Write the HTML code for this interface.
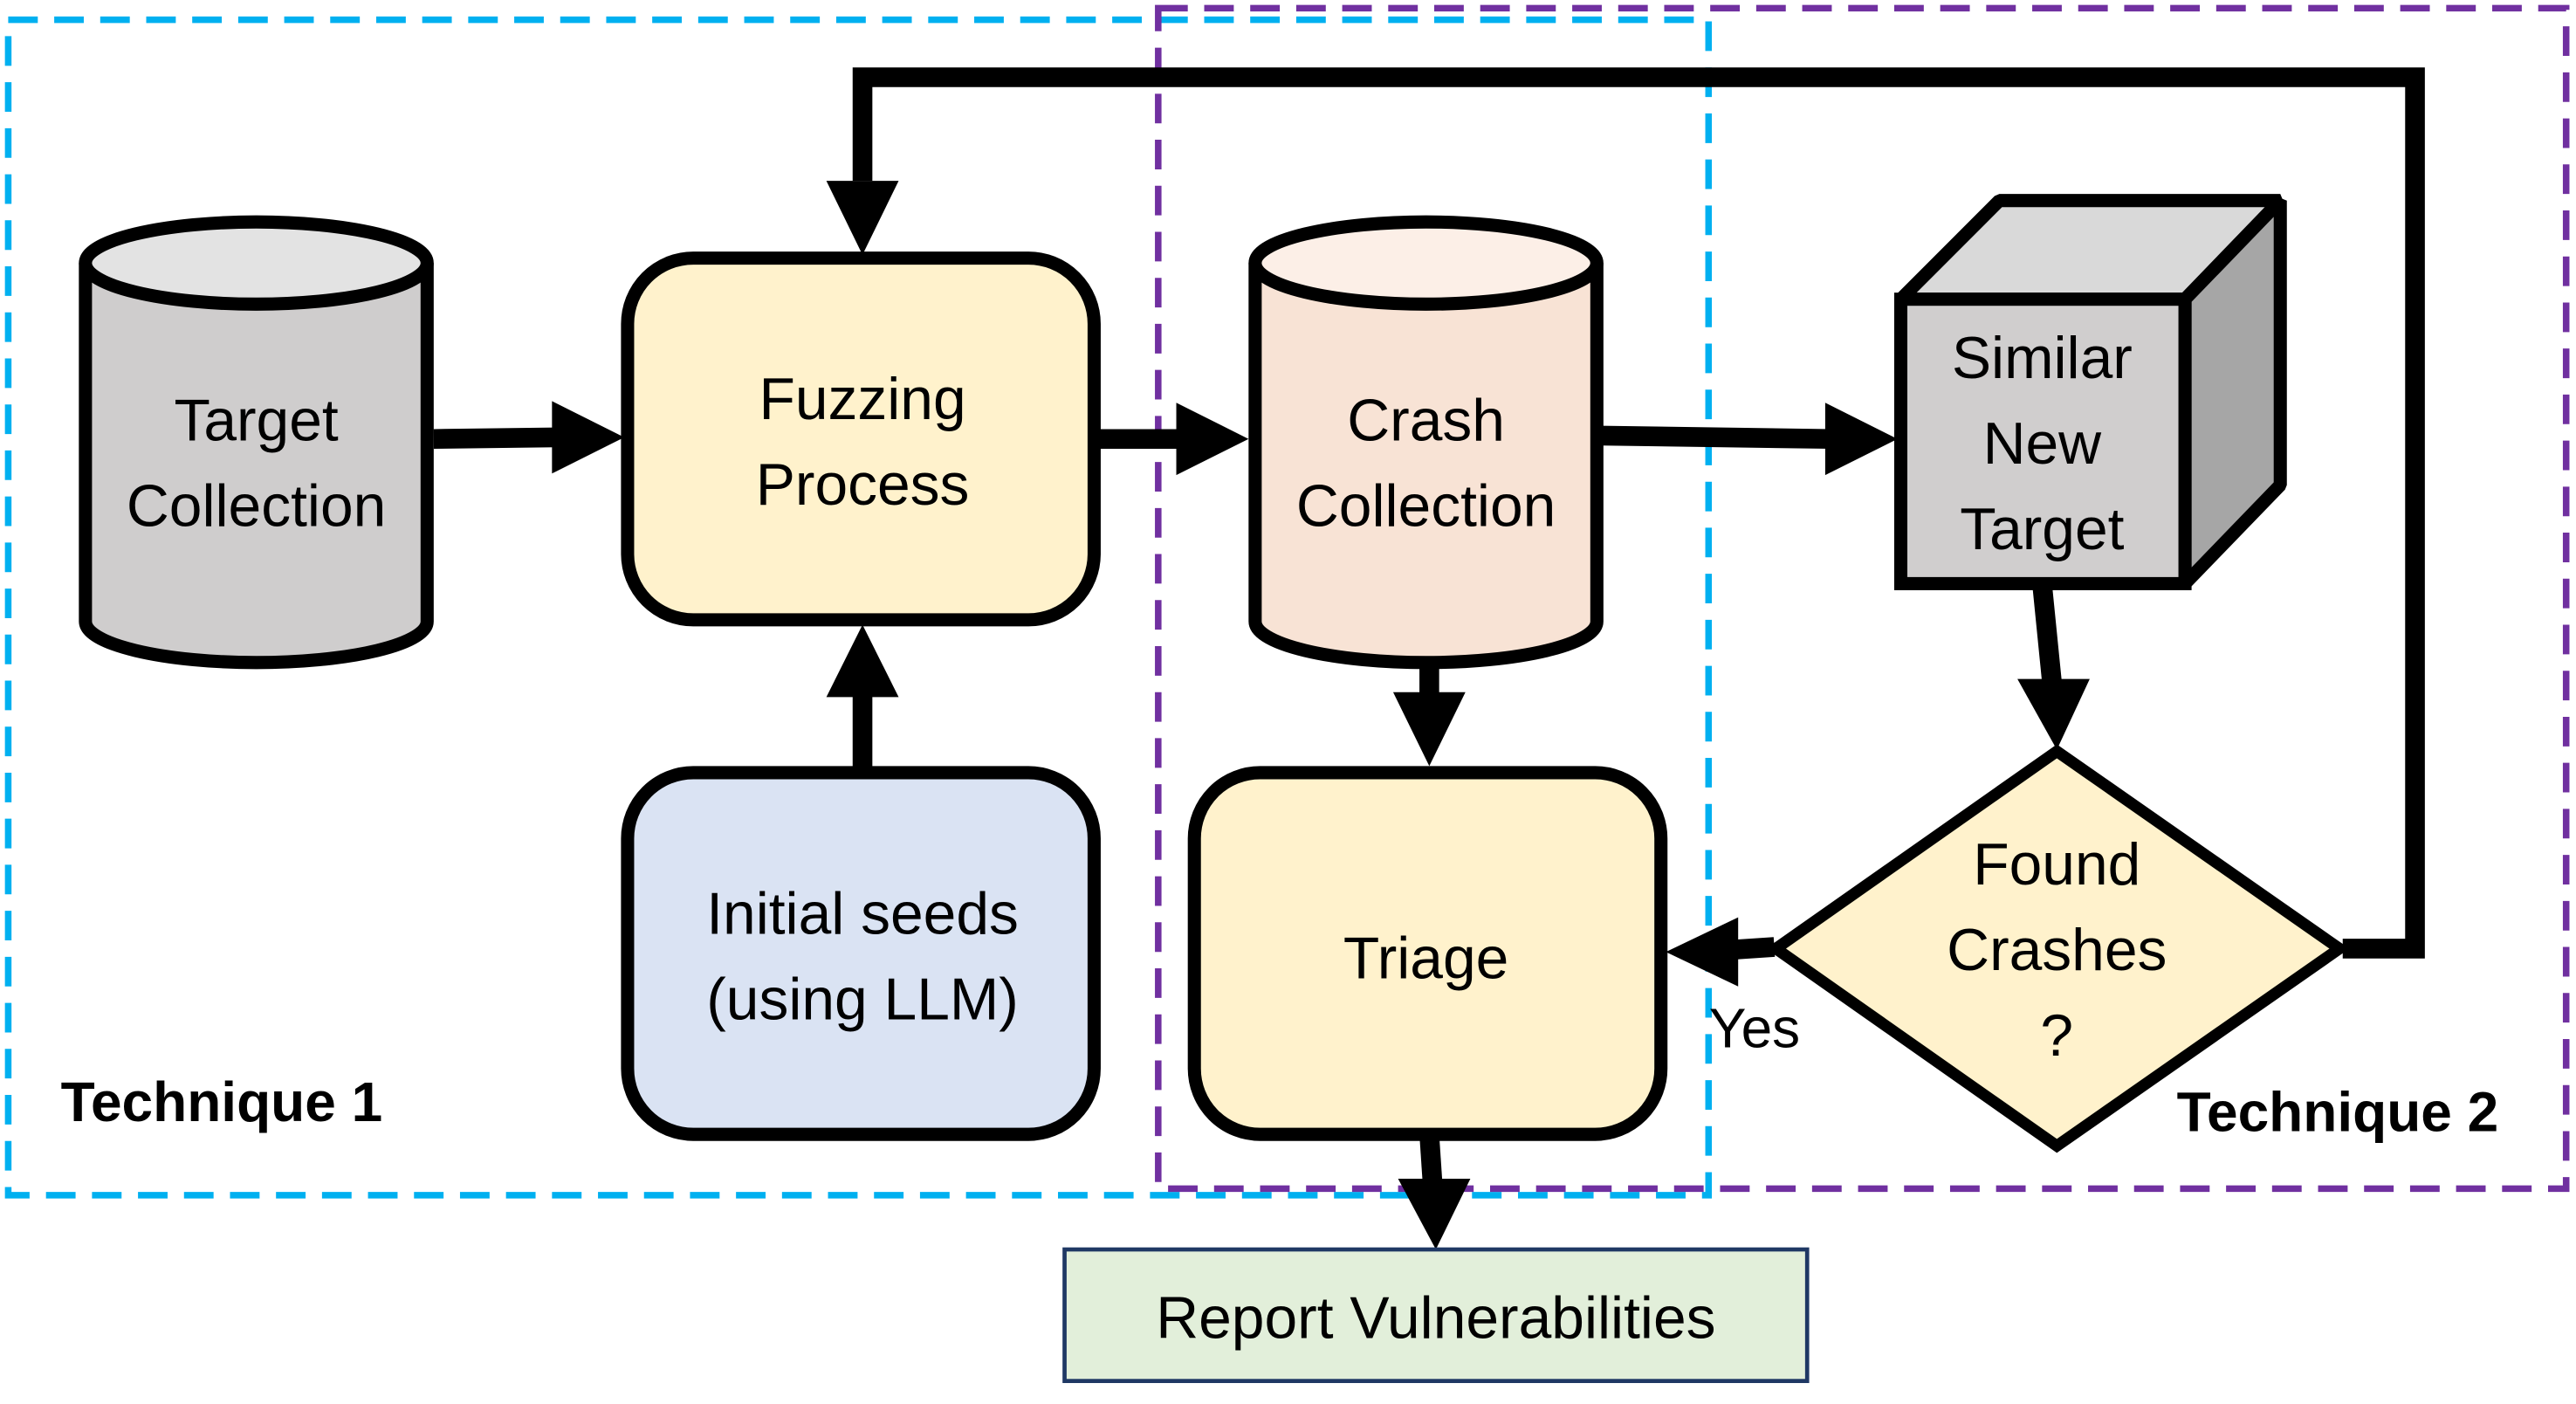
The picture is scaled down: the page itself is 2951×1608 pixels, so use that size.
<!DOCTYPE html>
<html><head><meta charset="utf-8"><style>
html,body{margin:0;padding:0;background:#fff;}
svg{display:block;}
text{font-family:"Liberation Sans",sans-serif;font-size:36px;fill:#000;text-anchor:middle;}
.b{font-weight:bold;font-size:34px;text-anchor:start;}
</style></head><body>
<svg width="2951" height="1608" viewBox="0 0 1568 854" preserveAspectRatio="none" xmlns="http://www.w3.org/2000/svg">
<rect x="5" y="12" width="1035" height="715" fill="none" stroke="#00b0f0" stroke-width="4" stroke-dasharray="18,10"/>
<rect x="705" y="5" width="857" height="718" fill="none" stroke="#7030a0" stroke-width="4" stroke-dasharray="18,10"/>

<polyline points="1426,577 1470,577 1470,47 525,47 525,110" fill="none" stroke="#000" stroke-width="12"/>
<polygon points="503,110 547,110 525,155" fill="#000"/>

<path d="M52,160 L52,378 A104,25 0 0 0 260,378 L260,160" fill="#cfcdcd" stroke="#000" stroke-width="8"/>
<ellipse cx="156" cy="160" rx="104" ry="25" fill="#e3e3e3" stroke="#000" stroke-width="8"/>
<text x="156" y="268">Target</text>
<text x="156" y="320">Collection</text>

<line x1="264" y1="267" x2="340" y2="266" stroke="#000" stroke-width="12"/>
<polygon points="336,244 380,266 336,288" fill="#000"/>
<line x1="667" y1="267" x2="720" y2="267" stroke="#000" stroke-width="12"/>
<polygon points="716,245 760,267 716,289" fill="#000"/>
<line x1="975" y1="265" x2="1115" y2="267" stroke="#000" stroke-width="12"/>
<polygon points="1111,245 1155,267 1111,289" fill="#000"/>
<line x1="525" y1="468" x2="525" y2="420" stroke="#000" stroke-width="12"/>
<polygon points="503,424 547,424 525,380" fill="#000"/>
<line x1="870" y1="380" x2="870" y2="425" stroke="#000" stroke-width="12"/>
<polygon points="848,421 892,421 870,466" fill="#000"/>
<line x1="1243" y1="355" x2="1249" y2="415" stroke="#000" stroke-width="12"/>
<polygon points="1228,413 1272,413 1252,456" fill="#000"/>
<line x1="1080" y1="576" x2="1050" y2="578" stroke="#000" stroke-width="12"/>
<polygon points="1058,558 1058,600 1014,579" fill="#000"/>
<line x1="870" y1="690" x2="872" y2="720" stroke="#000" stroke-width="12"/>
<polygon points="851,717 895,717 874,760" fill="#000"/>

<rect x="382" y="157" width="284" height="220" rx="40" fill="#fff2cc" stroke="#000" stroke-width="8"/>
<text x="525" y="255">Fuzzing</text>
<text x="525" y="307">Process</text>

<rect x="382" y="470" width="284" height="220" rx="40" fill="#dae3f3" stroke="#000" stroke-width="8"/>
<text x="525" y="568">Initial seeds</text>
<text x="525" y="620">(using LLM)</text>

<path d="M764,160 L764,378 A104,25 0 0 0 972,378 L972,160" fill="#f8e3d5" stroke="#000" stroke-width="8"/>
<ellipse cx="868" cy="160" rx="104" ry="25" fill="#fcefe7" stroke="#000" stroke-width="8"/>
<text x="868" y="268">Crash</text>
<text x="868" y="320">Collection</text>

<rect x="727" y="470" width="284" height="220" rx="40" fill="#fff2cc" stroke="#000" stroke-width="8"/>
<text x="868" y="595">Triage</text>

<polygon points="1157,182 1217,122 1388,122 1330,182" fill="#d9d9d9" stroke="#000" stroke-width="8" stroke-linejoin="bevel"/>
<polygon points="1330,182 1388,122 1388,295 1330,355" fill="#a6a6a6" stroke="#000" stroke-width="8" stroke-linejoin="bevel"/>
<rect x="1157" y="182" width="173" height="173" fill="#d0cece" stroke="#000" stroke-width="8"/>
<text x="1243" y="230">Similar</text>
<text x="1243" y="282">New</text>
<text x="1243" y="334">Target</text>

<polygon points="1252,457 1424,577 1252,697 1081,577" fill="#fff2cc" stroke="#000" stroke-width="7"/>
<text x="1252" y="538">Found</text>
<text x="1252" y="590">Crashes</text>
<text x="1252" y="642">?</text>
<text x="1068" y="637" style="font-size:34px">Yes</text>

<text class="b" x="37" y="682">Technique 1</text>
<text class="b" x="1325" y="688">Technique 2</text>

<rect x="648" y="760" width="452" height="80" fill="#e2efda" stroke="#1f3864" stroke-width="2.5"/>
<text x="874" y="814">Report Vulnerabilities</text>
</svg>
</body></html>
